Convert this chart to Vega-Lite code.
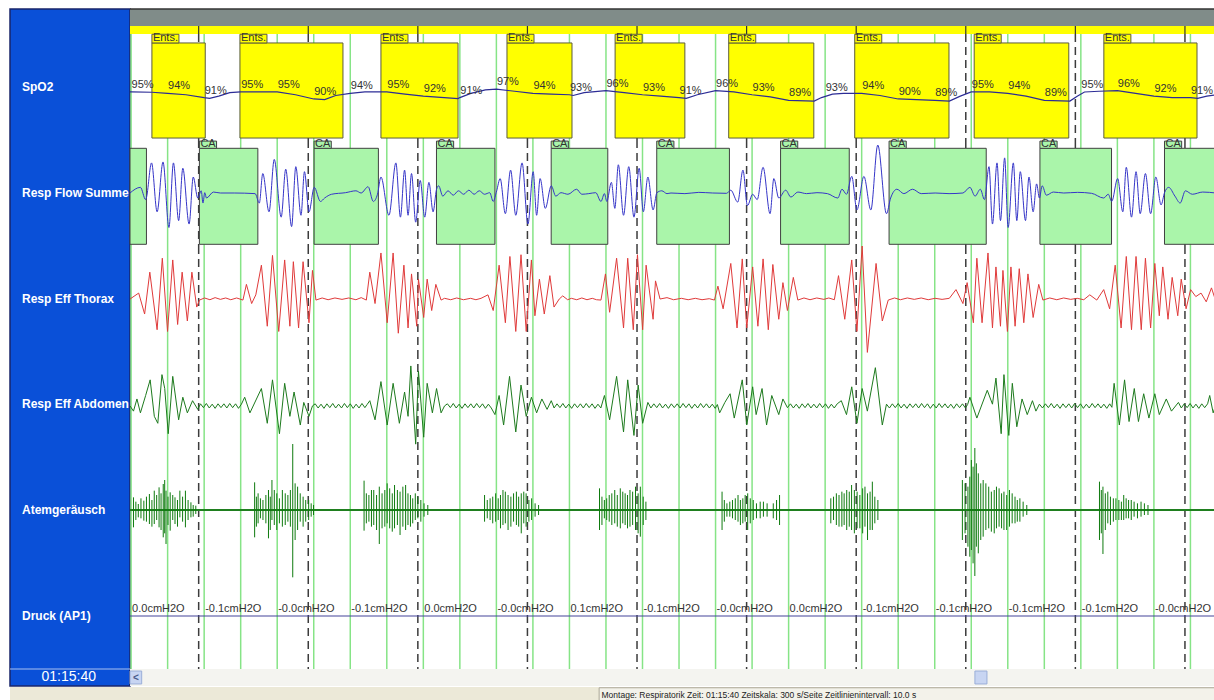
{
"$schema": "https://vega.github.io/schema/vega-lite/v6.json",
"padding": {"left": 8, "top": 8, "right": 0, "bottom": 0},
"background": "#ffffff",
"config": {"view": {"stroke": null}, "concat": {"spacing": 0}, "text": {"font": "Liberation Sans"}},
"datasets": {
"g10": [{"t":0},{"t":10},{"t":20},{"t":30},{"t":40},{"t":50},{"t":60},{"t":70},{"t":80},{"t":90},{"t":100},{"t":110},{"t":120},{"t":130},{"t":140},{"t":150},{"t":160},{"t":170},{"t":180},{"t":190},{"t":200},{"t":210},{"t":220},{"t":230},{"t":240},{"t":250},{"t":260},{"t":270},{"t":280},{"t":290}],
"g30": [{"t":18.5},{"t":48.5},{"t":78.5},{"t":108.5},{"t":138.5},{"t":168.5},{"t":198.5},{"t":228.5},{"t":258.5},{"t":288.5}],
"labels": [{"label":"SpO2","lane":0.5},{"label":"Resp Flow Summe","lane":1.5},{"label":"Resp Eff Thorax","lane":2.5},{"label":"Resp Eff Abdomen","lane":3.5},{"label":"Atemgeräusch","lane":4.5},{"label":"Druck (AP1)","lane":5.5}],
"ents": [{"s":5.7,"e":20.3,"te":13.1},{"s":29.8,"e":58.0,"te":37.2},{"s":68.4,"e":89.5,"te":75.8},{"s":102.9,"e":120.7,"te":110.3},{"s":132.5,"e":151.6,"te":139.9},{"s":163.6,"e":186.9,"te":171.0},{"s":198.1,"e":223.9,"te":205.5},{"s":230.8,"e":256.7,"te":238.2},{"s":266.3,"e":291.8,"te":273.7}],
"ca": [{"s":-0.3,"e":4.2},{"s":18.7,"e":34.7,"te":23.4},{"s":50.1,"e":67.7,"te":54.8},{"s":83.6,"e":99.6,"te":88.3},{"s":115.0,"e":130.5,"te":119.7},{"s":143.9,"e":163.8,"te":148.6},{"s":177.8,"e":196.6,"te":182.5},{"s":207.5,"e":234.1,"te":212.2},{"s":248.8,"e":268.4,"te":253.5},{"s":282.9,"e":297,"te":287.6}],
"spo2": [{"t":-0.3,"v":95},{"t":0,"v":95},{"t":5.7,"v":94.8},{"t":10,"v":94},{"t":15,"v":93},{"t":20,"v":91},{"t":21.5,"v":90.5},{"t":24,"v":92},{"t":27,"v":94.5},{"t":30,"v":95},{"t":40,"v":95},{"t":45,"v":93},{"t":50,"v":90},{"t":53,"v":89.5},{"t":56,"v":92.5},{"t":60,"v":94},{"t":64,"v":95},{"t":70,"v":95},{"t":75,"v":93.5},{"t":80,"v":92},{"t":89.5,"v":90.3},{"t":90,"v":91},{"t":93,"v":94},{"t":97,"v":96.5},{"t":100,"v":97},{"t":105,"v":95.5},{"t":110,"v":94},{"t":115,"v":93.5},{"t":120,"v":93},{"t":121,"v":92.5},{"t":124,"v":94.5},{"t":130,"v":96},{"t":135,"v":94.5},{"t":140,"v":93},{"t":145,"v":92},{"t":150,"v":91},{"t":152,"v":90.5},{"t":155,"v":93},{"t":160,"v":96},{"t":165,"v":95},{"t":170,"v":93},{"t":175,"v":91.5},{"t":180,"v":89},{"t":187,"v":88.5},{"t":189,"v":91},{"t":192,"v":93.5},{"t":195,"v":94},{"t":200,"v":94},{"t":205,"v":92.5},{"t":210,"v":90},{"t":215,"v":89.5},{"t":220,"v":89},{"t":224,"v":88.5},{"t":227,"v":92},{"t":230,"v":95},{"t":235,"v":95},{"t":240,"v":94},{"t":245,"v":92},{"t":250,"v":89},{"t":257,"v":88.5},{"t":259,"v":92},{"t":261,"v":95},{"t":265,"v":95.5},{"t":270,"v":96},{"t":275,"v":94},{"t":280,"v":92},{"t":285,"v":91},{"t":290,"v":91},{"t":292,"v":90.5},{"t":294.5,"v":92},{"t":297,"v":93}],
"spo2lab": [{"t":0,"v":95,"lab":"95%"},{"t":10,"v":94,"lab":"94%"},{"t":20,"v":91,"lab":"91%"},{"t":30,"v":95,"lab":"95%"},{"t":40,"v":95,"lab":"95%"},{"t":50,"v":90,"lab":"90%"},{"t":60,"v":94,"lab":"94%"},{"t":70,"v":95,"lab":"95%"},{"t":80,"v":92,"lab":"92%"},{"t":90,"v":91,"lab":"91%"},{"t":100,"v":97,"lab":"97%"},{"t":110,"v":94,"lab":"94%"},{"t":120,"v":93,"lab":"93%"},{"t":130,"v":96,"lab":"96%"},{"t":140,"v":93,"lab":"93%"},{"t":150,"v":91,"lab":"91%"},{"t":160,"v":96,"lab":"96%"},{"t":170,"v":93,"lab":"93%"},{"t":180,"v":89,"lab":"89%"},{"t":190,"v":93,"lab":"93%"},{"t":200,"v":94,"lab":"94%"},{"t":210,"v":90,"lab":"90%"},{"t":220,"v":89,"lab":"89%"},{"t":230,"v":95,"lab":"95%"},{"t":240,"v":94,"lab":"94%"},{"t":250,"v":89,"lab":"89%"},{"t":260,"v":95,"lab":"95%"},{"t":270,"v":96,"lab":"96%"},{"t":280,"v":92,"lab":"92%"},{"t":290,"v":91,"lab":"91%"}],
"druck": [{"t":0,"lab":"0.0cmH2O"},{"t":20,"lab":"-0.1cmH2O"},{"t":40,"lab":"-0.0cmH2O"},{"t":60,"lab":"-0.1cmH2O"},{"t":80,"lab":"0.0cmH2O"},{"t":100,"lab":"-0.0cmH2O"},{"t":120,"lab":"0.1cmH2O"},{"t":140,"lab":"-0.1cmH2O"},{"t":160,"lab":"-0.0cmH2O"},{"t":180,"lab":"0.0cmH2O"},{"t":200,"lab":"-0.1cmH2O"},{"t":220,"lab":"-0.1cmH2O"},{"t":240,"lab":"-0.1cmH2O"},{"t":260,"lab":"-0.1cmH2O"},{"t":280,"lab":"-0.0cmH2O"}],
"flow": [{"t":-0.3,"v":0},{"t":2.55,"v":0.18},{"t":3.98,"v":-0.21},{"t":4.17,"v":-0.16},{"t":5.6,"v":0.96},{"t":7.12,"v":-0.6},{"t":8.74,"v":0.99},{"t":10.36,"v":-1.1},{"t":11.59,"v":0.96},{"t":13.02,"v":-0.88},{"t":14.16,"v":0.79},{"t":15.88,"v":-0.99},{"t":17.02,"v":0.51},{"t":18.25,"v":-0.16},{"t":19.2,"v":0.07},{"t":19.68,"v":-0.32},{"t":20.16,"v":0.01},{"t":20.63,"v":-0.16},{"t":22.54,"v":0.03},{"t":24.44,"v":0},{"t":28.24,"v":0},{"t":33.95,"v":-0.02},{"t":35.1,"v":-0.32},{"t":36.05,"v":0.62},{"t":37.76,"v":-0.6},{"t":39.19,"v":1.07},{"t":41.09,"v":-0.77},{"t":42.33,"v":0.76},{"t":43.94,"v":-1.07},{"t":45.09,"v":0.84},{"t":46.51,"v":-0.71},{"t":47.46,"v":0.68},{"t":48.7,"v":-0.6},{"t":50.13,"v":0.18},{"t":51.84,"v":-0.27},{"t":52.98,"v":-0.16},{"t":54.89,"v":-0.04},{"t":58.69,"v":0.01},{"t":61.55,"v":0.07},{"t":62.97,"v":0},{"t":64.88,"v":0.2},{"t":66.3,"v":-0.27},{"t":67.45,"v":-0.04},{"t":68.4,"v":0.51},{"t":70.59,"v":-0.71},{"t":72.49,"v":0.96},{"t":73.73,"v":-0.77},{"t":74.87,"v":0.73},{"t":75.82,"v":-0.71},{"t":76.77,"v":0.62},{"t":77.91,"v":-0.93},{"t":79.15,"v":0.4},{"t":80.38,"v":-0.77},{"t":81.53,"v":0.34},{"t":82.67,"v":-0.6},{"t":83.62,"v":0.12},{"t":84.19,"v":0.23},{"t":85.33,"v":-0.1},{"t":86.76,"v":0.07},{"t":88.19,"v":-0.07},{"t":89.61,"v":0.07},{"t":91.04,"v":-0.04},{"t":92.47,"v":0.09},{"t":93.9,"v":-0.04},{"t":95.32,"v":0.07},{"t":96.75,"v":-0.04},{"t":98.18,"v":0.01},{"t":99.13,"v":-0.27},{"t":100.08,"v":0.07},{"t":101.03,"v":0.46},{"t":102.46,"v":-0.66},{"t":103.89,"v":0.73},{"t":105.31,"v":-0.71},{"t":107.03,"v":0.96},{"t":108.64,"v":-0.99},{"t":110.07,"v":0.68},{"t":111.02,"v":-0.71},{"t":111.97,"v":0.46},{"t":113.4,"v":-0.49},{"t":115.02,"v":0.23},{"t":116.26,"v":-0.1},{"t":117.68,"v":0.01},{"t":119.59,"v":-0.04},{"t":121.96,"v":0.12},{"t":123.39,"v":-0.04},{"t":125.3,"v":-0.02},{"t":127.2,"v":0.01},{"t":128.63,"v":-0.27},{"t":129.58,"v":-0.02},{"t":130.24,"v":-0.27},{"t":131.48,"v":0.34},{"t":132.43,"v":-0.49},{"t":133.38,"v":0.9},{"t":134.81,"v":-0.71},{"t":136.24,"v":0.84},{"t":137.66,"v":-0.77},{"t":139.09,"v":0.79},{"t":140.23,"v":-0.6},{"t":141.47,"v":0.51},{"t":142.9,"v":-0.54},{"t":143.94,"v":0.01},{"t":145.28,"v":0.07},{"t":146.7,"v":-0.02},{"t":147.8,"v":0},{"t":151.6,"v":-0.02},{"t":155.41,"v":0.02},{"t":159.22,"v":0},{"t":163.02,"v":-0.01},{"t":164.17,"v":0.09},{"t":166.07,"v":-0.29},{"t":167.5,"v":0.73},{"t":168.73,"v":-0.4},{"t":170.16,"v":-0.04},{"t":171.4,"v":-0.21},{"t":173.01,"v":0.82},{"t":174.92,"v":-0.66},{"t":175.96,"v":0.46},{"t":177.3,"v":-0.16},{"t":179.2,"v":0.09},{"t":180.63,"v":-0.13},{"t":182.53,"v":0.03},{"t":184.91,"v":-0.02},{"t":187.76,"v":0.01},{"t":190.62,"v":-0.02},{"t":193.47,"v":-0.16},{"t":194.61,"v":0.12},{"t":195.85,"v":-0.04},{"t":197.28,"v":0.53},{"t":198.7,"v":-0.54},{"t":200.61,"v":0.53},{"t":202.51,"v":-0.54},{"t":204.41,"v":1.53},{"t":206.79,"v":-0.66},{"t":207.93,"v":-0.16},{"t":209.65,"v":0.12},{"t":211.55,"v":-0.02},{"t":213.93,"v":0.12},{"t":216.31,"v":-0.02},{"t":220.11,"v":0},{"t":223.92,"v":-0.02},{"t":227.72,"v":0},{"t":229.63,"v":0.18},{"t":231.05,"v":-0.1},{"t":232.48,"v":0.12},{"t":233.62,"v":-0.21},{"t":234.86,"v":0.84},{"t":235.81,"v":-0.99},{"t":237.05,"v":0.96},{"t":238.0,"v":-0.88},{"t":239.14,"v":1.12},{"t":240.09,"v":-1.1},{"t":241.52,"v":0.96},{"t":242.47,"v":-0.88},{"t":243.42,"v":0.68},{"t":244.85,"v":-0.88},{"t":245.8,"v":0.51},{"t":246.94,"v":-0.6},{"t":247.89,"v":0.29},{"t":248.66,"v":-0.16},{"t":249.42,"v":0.23},{"t":250.56,"v":-0.07},{"t":252.46,"v":0.03},{"t":255.32,"v":0},{"t":259.12,"v":0.02},{"t":262.93,"v":-0.01},{"t":266.26,"v":-0.16},{"t":267.5,"v":-0.04},{"t":268.45,"v":-0.27},{"t":270.07,"v":0.46},{"t":271.49,"v":-0.6},{"t":272.44,"v":0.82},{"t":273.87,"v":-0.77},{"t":275.11,"v":0.68},{"t":276.25,"v":-0.66},{"t":277.68,"v":0.62},{"t":279.1,"v":-0.66},{"t":280.53,"v":0.51},{"t":281.96,"v":-0.38},{"t":282.91,"v":0.01},{"t":284.05,"v":0.18},{"t":285.76,"v":-0.1},{"t":287.19,"v":-0.32},{"t":288.62,"v":0.07},{"t":290.52,"v":-0.04},{"t":293.37,"v":0.03},{"t":296.99,"v":0}],
"thor": [{"t":-0.3,"v":0},{"t":2.08,"v":0.17},{"t":3.7,"v":-0.43},{"t":5.12,"v":0.77},{"t":7.12,"v":-0.88},{"t":8.55,"v":1.17},{"t":9.98,"v":-0.93},{"t":11.4,"v":1.12},{"t":12.74,"v":-0.73},{"t":13.97,"v":0.77},{"t":15.4,"v":-0.63},{"t":16.64,"v":0.77},{"t":17.97,"v":-0.23},{"t":18.73,"v":-0.03},{"t":20.1,"v":0.03},{"t":21.58,"v":-0.02},{"t":23.0,"v":0.04},{"t":24.44,"v":-0.01},{"t":25.9,"v":0.03},{"t":27.29,"v":-0.02},{"t":28.9,"v":0.03},{"t":30.62,"v":-0.03},{"t":31.57,"v":0.42},{"t":33.0,"v":-0.13},{"t":34.14,"v":0.12},{"t":35.67,"v":0.97},{"t":37.28,"v":-0.78},{"t":38.71,"v":1.25},{"t":40.42,"v":-0.93},{"t":42.04,"v":1.12},{"t":43.47,"v":-0.78},{"t":44.42,"v":1.07},{"t":45.85,"v":-0.83},{"t":47.08,"v":1.07},{"t":48.7,"v":-0.68},{"t":49.65,"v":0.82},{"t":50.6,"v":-0.03},{"t":52.3,"v":0.03},{"t":53.93,"v":-0.02},{"t":55.8,"v":0.03},{"t":57.74,"v":-0.01},{"t":59.6,"v":0.03},{"t":61.55,"v":-0.02},{"t":63.0,"v":0.04},{"t":64.4,"v":-0.03},{"t":65.35,"v":0.77},{"t":66.78,"v":-0.13},{"t":68.4,"v":1.32},{"t":70.11,"v":-0.68},{"t":71.73,"v":1.32},{"t":73.15,"v":-0.98},{"t":74.68,"v":0.97},{"t":75.82,"v":-0.83},{"t":76.77,"v":0.72},{"t":78.2,"v":-0.78},{"t":78.67,"v":0.57},{"t":80.1,"v":-0.53},{"t":81.05,"v":0.57},{"t":82.29,"v":-0.33},{"t":83.43,"v":0.42},{"t":84.86,"v":-0.03},{"t":85.81,"v":0.02},{"t":87.5,"v":-0.02},{"t":89.14,"v":0.03},{"t":91.0,"v":-0.02},{"t":92.94,"v":0.02},{"t":94.4,"v":-0.02},{"t":95.8,"v":0.02},{"t":97.7,"v":0.12},{"t":99.13,"v":-0.33},{"t":100.75,"v":0.97},{"t":102.46,"v":-0.68},{"t":103.7,"v":1.22},{"t":105.31,"v":-0.93},{"t":106.74,"v":1.27},{"t":108.17,"v":-0.93},{"t":109.59,"v":1.12},{"t":110.55,"v":-0.48},{"t":111.78,"v":0.57},{"t":113.11,"v":-0.43},{"t":114.64,"v":0.67},{"t":115.78,"v":-0.23},{"t":117.21,"v":0},{"t":118.16,"v":0.09},{"t":119.5,"v":-0.02},{"t":120.54,"v":0.02},{"t":122.0,"v":-0.02},{"t":123.39,"v":0.03},{"t":124.8,"v":-0.02},{"t":126.25,"v":0.02},{"t":127.4,"v":-0.02},{"t":128.63,"v":-0.03},{"t":129.86,"v":0.72},{"t":131.0,"v":-0.38},{"t":132.91,"v":1.17},{"t":134.81,"v":-0.83},{"t":135.95,"v":1.17},{"t":137.48,"v":-0.88},{"t":138.62,"v":1.27},{"t":140.04,"v":-0.88},{"t":140.99,"v":0.97},{"t":142.9,"v":-0.58},{"t":143.56,"v":0.52},{"t":144.8,"v":0},{"t":146.7,"v":0.04},{"t":148.5,"v":-0.02},{"t":150.65,"v":0.02},{"t":152.5,"v":-0.02},{"t":154.46,"v":0.02},{"t":156.3,"v":-0.02},{"t":158.27,"v":0.01},{"t":159.69,"v":-0.03},{"t":160.65,"v":0.37},{"t":162.07,"v":-0.28},{"t":164.17,"v":1.02},{"t":165.88,"v":-0.83},{"t":167.31,"v":1.15},{"t":168.54,"v":-0.83},{"t":170.16,"v":0.92},{"t":171.59,"v":-0.78},{"t":173.01,"v":1.15},{"t":174.44,"v":-0.88},{"t":175.68,"v":0.99},{"t":177.3,"v":-0.58},{"t":178.44,"v":0.47},{"t":179.67,"v":-0.33},{"t":181.29,"v":0.62},{"t":182.53,"v":-0.03},{"t":184.2,"v":0.03},{"t":185.86,"v":-0.02},{"t":187.7,"v":0.03},{"t":189.66,"v":-0.01},{"t":191.0,"v":0.03},{"t":192.52,"v":-0.02},{"t":193.66,"v":0.67},{"t":195.37,"v":-0.58},{"t":197.28,"v":1.12},{"t":198.7,"v":-0.93},{"t":200.13,"v":1.52},{"t":201.56,"v":-1.53},{"t":203.94,"v":1.02},{"t":205.65,"v":-0.63},{"t":207.27,"v":-0.03},{"t":209.0,"v":0.03},{"t":210.6,"v":-0.02},{"t":212.5,"v":0.03},{"t":214.4,"v":-0.01},{"t":216.3,"v":0.03},{"t":218.21,"v":-0.02},{"t":220.1,"v":0.02},{"t":222.01,"v":-0.01},{"t":224.0,"v":0.02},{"t":225.82,"v":0.27},{"t":227.72,"v":-0.13},{"t":228.87,"v":0.47},{"t":230.58,"v":-0.68},{"t":231.53,"v":1.17},{"t":232.96,"v":-0.68},{"t":234.58,"v":1.32},{"t":235.81,"v":-0.83},{"t":236.76,"v":0.92},{"t":238.0,"v":-0.78},{"t":238.67,"v":0.82},{"t":239.9,"v":-0.93},{"t":240.86,"v":0.92},{"t":242.0,"v":-0.78},{"t":243.14,"v":0.87},{"t":244.38,"v":-0.68},{"t":245.52,"v":0.72},{"t":246.94,"v":-0.53},{"t":248.47,"v":0.42},{"t":249.61,"v":-0.03},{"t":251.5,"v":0.03},{"t":253.42,"v":-0.02},{"t":255.3,"v":0.03},{"t":257.22,"v":-0.01},{"t":259.0,"v":0.02},{"t":260.8,"v":-0.02},{"t":262.45,"v":0.12},{"t":264.36,"v":-0.03},{"t":266.26,"v":0.27},{"t":267.88,"v":-0.28},{"t":269.4,"v":0.97},{"t":271.02,"v":-0.83},{"t":272.44,"v":1.22},{"t":273.87,"v":-0.88},{"t":275.11,"v":1.22},{"t":276.54,"v":-0.88},{"t":277.68,"v":1.17},{"t":279.1,"v":-0.83},{"t":280.25,"v":1.02},{"t":281.48,"v":-0.48},{"t":282.43,"v":0.92},{"t":283.86,"v":-0.58},{"t":285.0,"v":0.62},{"t":286.53,"v":-0.48},{"t":287.48,"v":0.57},{"t":288.81,"v":-0.28},{"t":290.05,"v":0.27},{"t":291.47,"v":0.07},{"t":292.9,"v":0.17},{"t":294.33,"v":-0.08},{"t":295.76,"v":0.32},{"t":297.0,"v":-0.08}],
"abd": [{"t":-0.3,"v":0},{"t":0.65,"v":-0.15},{"t":1.6,"v":0.2},{"t":2.55,"v":-0.2},{"t":3.98,"v":0.3},{"t":5.22,"v":0.75},{"t":6.36,"v":-0.3},{"t":7.31,"v":-0.5},{"t":8.45,"v":0.9},{"t":9.21,"v":0.5},{"t":10.17,"v":-0.8},{"t":11.4,"v":0.85},{"t":13.02,"v":-0.4},{"t":14.16,"v":0.25},{"t":15.4,"v":-0.2},{"t":16.83,"v":0.15},{"t":18.25,"v":-0.1},
{"t":19.0,"v":0.06},{"t":19.8,"v":-0.05},{"t":20.6,"v":0.07},{"t":21.4,"v":-0.06},{"t":22.2,"v":0.05},{"t":23.0,"v":-0.07},{"t":23.8,"v":0.06},{"t":24.6,"v":-0.05},{"t":25.4,"v":0.06},{"t":26.2,"v":-0.06},{"t":27.0,"v":0.07},{"t":27.8,"v":-0.05},{"t":28.6,"v":0.06},{"t":29.4,"v":-0.07},{"t":30.2,"v":0.05},
{"t":31.1,"v":0.25},{"t":32.53,"v":-0.2},{"t":35.67,"v":0.5},{"t":37.28,"v":-0.5},{"t":38.71,"v":0.75},{"t":40.61,"v":-0.8},{"t":42.04,"v":0.65},{"t":43.47,"v":-0.3},{"t":44.61,"v":0.4},{"t":46.32,"v":-0.55},{"t":47.27,"v":0.1},{"t":48.7,"v":-0.3},{"t":49.65,"v":0},
{"t":50.4,"v":0.06},{"t":51.2,"v":-0.06},{"t":52.0,"v":0.05},{"t":52.8,"v":-0.07},{"t":53.6,"v":0.06},{"t":54.4,"v":-0.05},{"t":55.2,"v":0.07},{"t":56.0,"v":-0.06},{"t":56.8,"v":0.05},{"t":57.6,"v":-0.06},{"t":58.4,"v":0.07},{"t":59.2,"v":-0.05},{"t":60.0,"v":0.06},{"t":60.8,"v":-0.07},{"t":61.6,"v":0.05},{"t":62.4,"v":-0.06},{"t":63.2,"v":0.07},{"t":64.0,"v":-0.05},{"t":64.6,"v":0.04},
{"t":65.35,"v":0.15},{"t":66.78,"v":-0.4},{"t":68.4,"v":0.7},{"t":70.11,"v":-0.55},{"t":71.73,"v":0.65},{"t":73.44,"v":-0.5},{"t":74.87,"v":0.4},{"t":75.82,"v":-0.3},{"t":76.58,"v":1.15},{"t":77.91,"v":-1.1},{"t":78.67,"v":1.0},{"t":80.1,"v":-0.9},{"t":81.05,"v":0.65},{"t":82.48,"v":-0.2},{"t":83.62,"v":0.5},{"t":84.86,"v":-0.2},{"t":85.81,"v":0},
{"t":86.6,"v":0.06},{"t":87.4,"v":-0.05},{"t":88.2,"v":0.07},{"t":89.0,"v":-0.06},{"t":89.8,"v":0.05},{"t":90.6,"v":-0.07},{"t":91.4,"v":0.06},{"t":92.2,"v":-0.05},{"t":93.0,"v":0.06},{"t":93.8,"v":-0.06},{"t":94.6,"v":0.07},{"t":95.4,"v":-0.05},{"t":96.2,"v":0.06},{"t":97.0,"v":-0.07},{"t":97.8,"v":0.05},{"t":98.6,"v":-0.06},
{"t":99.61,"v":-0.25},{"t":100.75,"v":0.3},{"t":101.98,"v":-0.55},{"t":103.6,"v":0.85},{"t":105.31,"v":-0.75},{"t":106.74,"v":0.6},{"t":108.17,"v":-0.3},{"t":109.59,"v":0.25},{"t":111.02,"v":-0.2},{"t":112.45,"v":0.2},{"t":113.88,"v":-0.1},{"t":115.02,"v":0.15},
{"t":115.8,"v":-0.06},{"t":116.6,"v":0.06},{"t":117.4,"v":-0.05},{"t":118.2,"v":0.07},{"t":119.0,"v":-0.06},{"t":119.8,"v":0.05},{"t":120.6,"v":-0.07},{"t":121.4,"v":0.06},{"t":122.2,"v":-0.05},{"t":123.0,"v":0.06},{"t":123.8,"v":-0.06},{"t":124.6,"v":0.07},{"t":125.4,"v":-0.05},{"t":126.2,"v":0.06},{"t":127.0,"v":-0.07},{"t":127.8,"v":0.05},{"t":128.6,"v":-0.06},
{"t":129.58,"v":0.3},{"t":131.0,"v":-0.4},{"t":132.91,"v":0.85},{"t":134.81,"v":-0.75},{"t":135.95,"v":0.75},{"t":137.66,"v":-0.85},{"t":138.81,"v":0.6},{"t":140.04,"v":-0.5},{"t":141.47,"v":0.1},
{"t":142.3,"v":-0.06},{"t":143.1,"v":0.06},{"t":143.9,"v":-0.05},{"t":144.7,"v":0.07},{"t":145.5,"v":-0.06},{"t":146.3,"v":0.05},{"t":147.1,"v":-0.07},{"t":147.9,"v":0.06},{"t":148.7,"v":-0.05},{"t":149.5,"v":0.06},{"t":150.3,"v":-0.06},{"t":151.1,"v":0.07},{"t":151.9,"v":-0.05},{"t":152.7,"v":0.06},{"t":153.5,"v":-0.07},{"t":154.3,"v":0.05},{"t":155.1,"v":-0.06},{"t":155.9,"v":0.07},{"t":156.7,"v":-0.05},{"t":157.5,"v":0.06},{"t":158.3,"v":-0.06},{"t":159.1,"v":0.05},{"t":159.9,"v":-0.07},{"t":160.5,"v":0.04},
{"t":161.12,"v":-0.2},{"t":162.55,"v":0.1},{"t":163.98,"v":0.35},{"t":165.12,"v":-0.35},{"t":167.31,"v":0.75},{"t":168.54,"v":-0.55},{"t":170.16,"v":0.55},{"t":171.11,"v":-0.25},{"t":172.73,"v":0.5},{"t":173.97,"v":-0.55},{"t":175.39,"v":0.3},{"t":177.3,"v":-0.25},{"t":178.44,"v":0.2},{"t":179.67,"v":-0.05},
{"t":180.5,"v":0.06},{"t":181.3,"v":-0.06},{"t":182.1,"v":0.05},{"t":182.9,"v":-0.07},{"t":183.7,"v":0.06},{"t":184.5,"v":-0.05},{"t":185.3,"v":0.07},{"t":186.1,"v":-0.06},{"t":186.9,"v":0.05},{"t":187.7,"v":-0.06},{"t":188.5,"v":0.07},{"t":189.3,"v":-0.05},{"t":190.1,"v":0.06},{"t":190.9,"v":-0.07},{"t":191.7,"v":0.05},{"t":192.5,"v":-0.06},{"t":193.3,"v":0.06},
{"t":194.42,"v":0.15},{"t":195.85,"v":-0.25},{"t":197.28,"v":0.55},{"t":198.7,"v":-0.5},{"t":200.13,"v":0.5},{"t":201.56,"v":-0.15},{"t":203.75,"v":1.1},{"t":205.65,"v":-0.55},{"t":206.79,"v":0.05},
{"t":207.6,"v":-0.06},{"t":208.4,"v":0.06},{"t":209.2,"v":-0.05},{"t":210.0,"v":0.07},{"t":210.8,"v":-0.06},{"t":211.6,"v":0.05},{"t":212.4,"v":-0.07},{"t":213.2,"v":0.06},{"t":214.0,"v":-0.05},{"t":214.8,"v":0.06},{"t":215.6,"v":-0.06},{"t":216.4,"v":0.07},{"t":217.2,"v":-0.05},{"t":218.0,"v":0.06},{"t":218.8,"v":-0.07},{"t":219.6,"v":0.05},{"t":220.4,"v":-0.06},{"t":221.2,"v":0.07},{"t":222.0,"v":-0.05},{"t":222.8,"v":0.06},{"t":223.6,"v":-0.06},{"t":224.4,"v":0.05},{"t":225.2,"v":-0.07},{"t":226.0,"v":0.06},{"t":226.8,"v":-0.05},{"t":227.6,"v":0.06},{"t":228.4,"v":-0.06},{"t":229.0,"v":0.04},
{"t":229.63,"v":0.25},{"t":231.53,"v":-0.35},{"t":234.38,"v":0.45},{"t":235.81,"v":0.05},{"t":236.76,"v":0.8},{"t":238.19,"v":-0.8},{"t":238.95,"v":0.9},{"t":240.28,"v":-0.85},{"t":241.24,"v":0.65},{"t":242.47,"v":-0.6},{"t":243.9,"v":0.2},{"t":245.33,"v":-0.25},{"t":246.75,"v":0.15},{"t":247.7,"v":-0.15},{"t":248.66,"v":0.05},
{"t":249.5,"v":-0.06},{"t":250.3,"v":0.06},{"t":251.1,"v":-0.05},{"t":251.9,"v":0.07},{"t":252.7,"v":-0.06},{"t":253.5,"v":0.05},{"t":254.3,"v":-0.07},{"t":255.1,"v":0.06},{"t":255.9,"v":-0.05},{"t":256.7,"v":0.06},{"t":257.5,"v":-0.06},{"t":258.3,"v":0.07},{"t":259.1,"v":-0.05},{"t":259.9,"v":0.06},{"t":260.7,"v":-0.07},{"t":261.5,"v":0.05},{"t":262.3,"v":-0.06},{"t":263.1,"v":0.07},{"t":263.9,"v":-0.05},{"t":264.7,"v":0.06},{"t":265.5,"v":-0.06},{"t":266.3,"v":0.05},{"t":267.1,"v":-0.07},{"t":267.9,"v":0.06},{"t":268.5,"v":-0.04},
{"t":269.11,"v":0.65},{"t":270.54,"v":-0.55},{"t":271.97,"v":0.75},{"t":273.2,"v":-0.45},{"t":274.63,"v":0.5},{"t":275.77,"v":-0.45},{"t":277.2,"v":0.35},{"t":278.63,"v":-0.35},{"t":280.25,"v":0.35},{"t":281.48,"v":-0.25},{"t":283.39,"v":0.2},{"t":284.81,"v":-0.15},{"t":286.71,"v":0.1},
{"t":287.5,"v":-0.06},{"t":288.3,"v":0.06},{"t":289.1,"v":-0.05},{"t":289.9,"v":0.07},{"t":290.7,"v":-0.06},{"t":291.5,"v":0.05},{"t":292.3,"v":-0.07},{"t":293.1,"v":0.06},{"t":293.9,"v":-0.05},{"t":294.7,"v":0.06},
{"t":295.28,"v":0.3},{"t":296.23,"v":-0.2},{"t":297,"v":0.05}],
"atem": [{"t":0.65,"hi":0.38,"lo":-0.52},{"t":1.97,"hi":0.18,"lo":-0.22},{"t":3.49,"hi":0.28,"lo":-0.32},{"t":5.01,"hi":0.48,"lo":-0.42},{"t":6.34,"hi":0.58,"lo":-0.42},{"t":7.66,"hi":0.68,"lo":-0.52},{"t":8.8,"hi":0.78,"lo":-0.82},{"t":9.56,"hi":0.58,"lo":-1.02},{"t":10.7,"hi":0.53,"lo":-0.62},{"t":12.02,"hi":0.38,"lo":-0.42},{"t":13.35,"hi":0.58,"lo":-0.22},{"t":14.87,"hi":0.58,"lo":-0.52},{"t":16.38,"hi":0.23,"lo":-0.22},{"t":17.71,"hi":0.13,"lo":-0.12},
{"t":1.3,"hi":0.25,"lo":-0.3},{"t":2.7,"hi":0.35,"lo":-0.25},{"t":4.2,"hi":0.4,"lo":-0.35},{"t":5.7,"hi":0.3,"lo":-0.5},{"t":7.0,"hi":0.45,"lo":-0.3},{"t":8.2,"hi":0.5,"lo":-0.6},{"t":9.2,"hi":0.9,"lo":-0.7},{"t":10.1,"hi":0.4,"lo":-0.45},{"t":11.4,"hi":0.45,"lo":-0.3},{"t":12.7,"hi":0.3,"lo":-0.5},{"t":14.1,"hi":0.4,"lo":-0.35},{"t":15.6,"hi":0.3,"lo":-0.3},{"t":17.0,"hi":0.15,"lo":-0.2},
{"t":33.82,"hi":0.83,"lo":-0.82},{"t":34.77,"hi":0.5,"lo":-0.4},{"t":36.1,"hi":0.3,"lo":-0.3},{"t":37.61,"hi":0.6,"lo":-0.85},{"t":38.56,"hi":0.9,"lo":-0.3},{"t":39.89,"hi":0.5,"lo":-0.6},{"t":41.41,"hi":0.6,"lo":-0.5},{"t":42.92,"hi":0.45,"lo":-0.35},{"t":44.25,"hi":1.98,"lo":-2.02},{"t":45.58,"hi":0.7,"lo":-0.6},{"t":47.09,"hi":0.4,"lo":-0.5},{"t":48.61,"hi":0.3,"lo":-0.3},{"t":49.94,"hi":0.15,"lo":-0.15},
{"t":34.3,"hi":0.4,"lo":-0.5},{"t":35.4,"hi":0.35,"lo":-0.25},{"t":36.9,"hi":0.45,"lo":-0.4},{"t":38.1,"hi":0.4,"lo":-0.6},{"t":39.2,"hi":0.6,"lo":-0.45},{"t":40.6,"hi":0.35,"lo":-0.4},{"t":42.2,"hi":0.5,"lo":-0.45},{"t":43.6,"hi":0.6,"lo":-0.5},{"t":44.9,"hi":0.8,"lo":-0.9},{"t":46.3,"hi":0.5,"lo":-0.35},{"t":47.8,"hi":0.3,"lo":-0.35},{"t":49.3,"hi":0.2,"lo":-0.2},
{"t":63.78,"hi":0.88,"lo":-0.62},{"t":65.1,"hi":0.45,"lo":-0.35},{"t":66.43,"hi":0.6,"lo":-0.45},{"t":67.95,"hi":0.7,"lo":-1.02},{"t":69.46,"hi":0.6,"lo":-0.5},{"t":70.79,"hi":0.65,"lo":-0.55},{"t":72.12,"hi":0.75,"lo":-0.55},{"t":73.63,"hi":0.55,"lo":-0.75},{"t":75.15,"hi":0.75,"lo":-0.6},{"t":76.48,"hi":0.45,"lo":-0.5},{"t":77.8,"hi":0.5,"lo":-0.3},{"t":79.32,"hi":0.3,"lo":-0.35},{"t":81.22,"hi":0.15,"lo":-0.15},
{"t":64.4,"hi":0.5,"lo":-0.4},{"t":65.8,"hi":0.6,"lo":-0.5},{"t":67.2,"hi":0.45,"lo":-0.6},{"t":68.7,"hi":0.5,"lo":-0.55},{"t":70.1,"hi":0.8,"lo":-0.4},{"t":71.5,"hi":0.5,"lo":-0.65},{"t":72.9,"hi":0.6,"lo":-0.45},{"t":74.4,"hi":0.7,"lo":-0.5},{"t":75.8,"hi":0.5,"lo":-0.45},{"t":77.1,"hi":0.35,"lo":-0.4},{"t":78.5,"hi":0.4,"lo":-0.25},{"t":80.2,"hi":0.2,"lo":-0.2},
{"t":96.76,"hi":0.45,"lo":-0.35},{"t":98.28,"hi":0.35,"lo":-0.3},{"t":99.8,"hi":0.5,"lo":-0.35},{"t":101.12,"hi":0.45,"lo":-0.55},{"t":102.45,"hi":0.55,"lo":-0.4},{"t":103.97,"hi":0.4,"lo":-0.5},{"t":105.48,"hi":0.55,"lo":-0.45},{"t":106.81,"hi":0.5,"lo":-0.7},{"t":108.14,"hi":0.5,"lo":-0.5},{"t":109.65,"hi":0.35,"lo":-0.3},{"t":111.55,"hi":0.15,"lo":-0.15},
{"t":97.5,"hi":0.3,"lo":-0.25},{"t":99.0,"hi":0.4,"lo":-0.4},{"t":100.5,"hi":0.35,"lo":-0.3},{"t":101.8,"hi":0.6,"lo":-0.45},{"t":103.2,"hi":0.45,"lo":-0.6},{"t":104.7,"hi":0.5,"lo":-0.35},{"t":106.1,"hi":0.4,"lo":-0.5},{"t":107.5,"hi":0.55,"lo":-0.4},{"t":108.9,"hi":0.3,"lo":-0.35},{"t":110.6,"hi":0.2,"lo":-0.2},
{"t":128.23,"hi":0.65,"lo":-0.6},{"t":129.56,"hi":0.3,"lo":-0.25},{"t":130.89,"hi":0.45,"lo":-0.35},{"t":132.4,"hi":0.6,"lo":-0.4},{"t":133.92,"hi":0.65,"lo":-0.55},{"t":135.25,"hi":0.5,"lo":-0.45},{"t":136.57,"hi":0.6,"lo":-0.5},{"t":138.09,"hi":0.7,"lo":-0.6},{"t":139.41,"hi":0.7,"lo":-0.8},{"t":140.93,"hi":0.25,"lo":-0.3},
{"t":128.9,"hi":0.4,"lo":-0.45},{"t":130.2,"hi":0.35,"lo":-0.3},{"t":131.6,"hi":0.5,"lo":-0.45},{"t":133.1,"hi":0.45,"lo":-0.5},{"t":134.6,"hi":0.55,"lo":-0.4},{"t":135.9,"hi":0.45,"lo":-0.55},{"t":137.3,"hi":0.55,"lo":-0.45},{"t":138.8,"hi":0.5,"lo":-0.7},{"t":140.2,"hi":0.4,"lo":-0.45},
{"t":161.78,"hi":0.55,"lo":-0.6},{"t":163.11,"hi":0.2,"lo":-0.2},{"t":164.63,"hi":0.3,"lo":-0.25},{"t":166.15,"hi":0.45,"lo":-0.35},{"t":167.47,"hi":0.35,"lo":-0.4},{"t":168.8,"hi":0.5,"lo":-0.6},{"t":170.32,"hi":0.3,"lo":-0.3},{"t":172.22,"hi":0.25,"lo":-0.25},{"t":174.11,"hi":0.2,"lo":-0.2},{"t":177.52,"hi":0.45,"lo":-0.45},
{"t":162.4,"hi":0.3,"lo":-0.35},{"t":163.9,"hi":0.25,"lo":-0.2},{"t":165.4,"hi":0.35,"lo":-0.3},{"t":166.8,"hi":0.3,"lo":-0.45},{"t":168.1,"hi":0.45,"lo":-0.35},{"t":169.5,"hi":0.35,"lo":-0.4},{"t":171.2,"hi":0.2,"lo":-0.25},{"t":173.1,"hi":0.25,"lo":-0.2},{"t":175.8,"hi":0.2,"lo":-0.25},{"t":176.7,"hi":0.3,"lo":-0.3},
{"t":191.55,"hi":0.35,"lo":-0.4},{"t":193.07,"hi":0.5,"lo":-0.45},{"t":194.58,"hi":0.55,"lo":-0.5},{"t":195.91,"hi":0.6,"lo":-0.6},{"t":197.24,"hi":0.75,"lo":-0.6},{"t":198.75,"hi":0.55,"lo":-0.55},{"t":200.27,"hi":0.65,"lo":-0.7},{"t":201.6,"hi":0.5,"lo":-0.9},{"t":202.92,"hi":0.85,"lo":-0.6},{"t":204.44,"hi":0.3,"lo":-0.3},
{"t":192.3,"hi":0.4,"lo":-0.3},{"t":193.8,"hi":0.45,"lo":-0.5},{"t":195.2,"hi":0.5,"lo":-0.45},{"t":196.6,"hi":0.55,"lo":-0.5},{"t":198.0,"hi":0.6,"lo":-0.7},{"t":199.5,"hi":0.45,"lo":-0.55},{"t":200.9,"hi":0.7,"lo":-0.5},{"t":202.3,"hi":0.55,"lo":-0.6},{"t":203.6,"hi":0.4,"lo":-0.4},
{"t":227.57,"hi":0.9,"lo":-0.9},{"t":229.09,"hi":0.7,"lo":-1.1},{"t":230.03,"hi":1.5,"lo":-1.2},{"t":230.98,"hi":1.86,"lo":-1.98},{"t":231.93,"hi":1.1,"lo":-1.3},{"t":233.26,"hi":0.9,"lo":-0.8},{"t":234.78,"hi":0.7,"lo":-0.55},{"t":236.29,"hi":0.6,"lo":-0.7},{"t":237.62,"hi":0.65,"lo":-0.5},{"t":238.95,"hi":0.55,"lo":-0.6},{"t":240.46,"hi":0.6,"lo":-0.5},{"t":241.98,"hi":0.4,"lo":-0.4},{"t":243.31,"hi":0.35,"lo":-0.35},{"t":245.2,"hi":0.15,"lo":-0.15},
{"t":228.3,"hi":0.8,"lo":-0.7},{"t":229.6,"hi":1.0,"lo":-1.4},{"t":230.5,"hi":1.3,"lo":-1.6},{"t":231.4,"hi":1.4,"lo":-1.1},{"t":232.6,"hi":0.8,"lo":-0.9},{"t":234.0,"hi":0.8,"lo":-0.6},{"t":235.5,"hi":0.55,"lo":-0.65},{"t":236.9,"hi":0.7,"lo":-0.55},{"t":238.3,"hi":0.5,"lo":-0.55},{"t":239.7,"hi":0.45,"lo":-0.6},{"t":241.2,"hi":0.5,"lo":-0.4},{"t":242.6,"hi":0.3,"lo":-0.35},{"t":244.2,"hi":0.25,"lo":-0.2},
{"t":265.1,"hi":0.85,"lo":-0.9},{"t":266.05,"hi":0.7,"lo":-1.32},{"t":267.38,"hi":0.55,"lo":-0.4},{"t":268.9,"hi":0.35,"lo":-0.35},{"t":270.41,"hi":0.3,"lo":-0.3},{"t":271.74,"hi":0.45,"lo":-0.3},{"t":273.07,"hi":0.3,"lo":-0.25},{"t":274.58,"hi":0.25,"lo":-0.2},{"t":276.48,"hi":0.25,"lo":-0.2},{"t":278.38,"hi":0.15,"lo":-0.15},
{"t":265.6,"hi":0.6,"lo":-0.7},{"t":266.7,"hi":0.5,"lo":-0.6},{"t":268.1,"hi":0.4,"lo":-0.45},{"t":269.6,"hi":0.35,"lo":-0.3},{"t":271.1,"hi":0.25,"lo":-0.3},{"t":272.4,"hi":0.35,"lo":-0.25},{"t":273.8,"hi":0.3,"lo":-0.3},{"t":275.5,"hi":0.2,"lo":-0.25},{"t":277.4,"hi":0.2,"lo":-0.15}]
},
"vconcat": [
{
"hconcat": [
{
"width": 120, "height": 677,
"view": {"fill": "#0a50d8", "stroke": "#18256a", "strokeWidth": 1.5},
"layer": [
{"data": {"values": [{}]}, "mark": {"type": "rule", "color": "#a8c0f0", "strokeWidth": 1},
 "encoding": {"y": {"datum": 6.0, "scale": {"domain": [-0.2362, 6.1606], "reverse": true, "nice": false, "zero": false}, "axis": null}}},
{"data": {"name": "labels"}, "mark": {"type": "text", "font": "Liberation Sans", "fontSize": 12, "fontWeight": "bold", "color": "#ffffff", "align": "left", "baseline": "middle"},
 "encoding": {"x": {"datum": 0.1, "scale": {"domain": [0, 1], "nice": false, "zero": false}, "axis": null},
  "y": {"field": "lane", "type": "quantitative", "scale": {"domain": [-0.2362, 6.1606], "reverse": true, "nice": false, "zero": false}, "axis": null},
  "text": {"field": "label"}}},
{"data": {"values": [{"label": "01:15:40", "lane": 6.08}]}, "mark": {"type": "text", "font": "Liberation Sans", "fontSize": 14, "color": "#ffffff", "align": "center", "baseline": "middle"},
 "encoding": {"x": {"datum": 0.49, "scale": {"domain": [0, 1], "nice": false, "zero": false}, "axis": null},
  "y": {"field": "lane", "type": "quantitative", "scale": {"domain": [-0.2362, 6.1606], "reverse": true, "nice": false, "zero": false}, "axis": null},
  "text": {"field": "label"}}}
]
},
{
"vconcat": [
{
"width": 1086, "height": 25,
"view": {"fill": "#808c89"},
"layer": [
{"data": {"values": [{}]}, "mark": {"type": "rect", "color": "#ffff00"},
 "encoding": {"x": {"datum": -0.3, "scale": {"domain": [-0.3, 297], "nice": false, "zero": false}, "axis": null}, "x2": {"datum": 297},
  "y": {"datum": 0, "scale": {"domain": [0, 1], "nice": false, "zero": false}, "axis": null}, "y2": {"datum": 0.32}}},
{"data": {"values": [{}]}, "mark": {"type": "rule", "color": "#333333", "strokeWidth": 1.5},
 "encoding": {"y": {"datum": 1, "scale": {"domain": [0, 1], "nice": false, "zero": false}, "axis": null}}},
{"data": {"name": "g30"}, "mark": {"type": "rule", "color": "#333333", "strokeWidth": 1.2},
 "encoding": {"x": {"field": "t", "type": "quantitative", "scale": {"domain": [-0.3, 297], "nice": false, "zero": false}, "axis": null},
  "y": {"datum": 0, "scale": {"domain": [0, 1], "nice": false, "zero": false}, "axis": null}, "y2": {"datum": 0.32}}}
]
},
{
"width": 1086, "height": 106,
"layer": [
{"data": {"name": "g10"}, "mark": {"type": "rule", "color": "#86e486", "strokeWidth": 1.5}, "encoding": {"x": {"field": "t", "type": "quantitative", "scale": {"domain": [-0.3, 297], "nice": false, "zero": false}, "axis": null}}},
{"data": {"name": "g30"}, "mark": {"type": "rule", "color": "#3c3c3c", "strokeWidth": 1.5, "strokeDash": [8, 5]}, "encoding": {"x": {"field": "t", "type": "quantitative", "scale": {"domain": [-0.3, 297], "nice": false, "zero": false}, "axis": null}}},
{"data": {"name": "ents"}, "mark": {"type": "rect", "fill": "#ffff00", "stroke": "#5c5c3c", "strokeWidth": 1},
 "encoding": {"x": {"field": "s", "type": "quantitative", "scale": {"domain": [-0.3, 297], "nice": false, "zero": false}, "axis": null}, "x2": {"field": "e"},
  "y": {"datum": 130, "scale": {"domain": [60.7, 136.4], "nice": false, "zero": false}, "axis": null}, "y2": {"datum": 62.1}}},
{"data": {"name": "ents"}, "mark": {"type": "rect", "fill": "#ffff00", "stroke": "#5c5c3c", "strokeWidth": 1},
 "encoding": {"x": {"field": "s", "type": "quantitative", "scale": {"domain": [-0.3, 297], "nice": false, "zero": false}, "axis": null}, "x2": {"field": "te"},
  "y": {"datum": 136.2, "scale": {"domain": [60.7, 136.4], "nice": false, "zero": false}, "axis": null}, "y2": {"datum": 130}}},
{"data": {"name": "ents"}, "mark": {"type": "text", "font": "Liberation Sans", "fontSize": 11, "color": "#333333", "align": "left", "baseline": "bottom", "dx": 1, "dy": 0},
 "encoding": {"x": {"field": "s", "type": "quantitative", "scale": {"domain": [-0.3, 297], "nice": false, "zero": false}, "axis": null},
  "y": {"datum": 130, "scale": {"domain": [60.7, 136.4], "nice": false, "zero": false}, "axis": null}, "text": {"value": "Ents."}}},
{"data": {"name": "spo2"}, "mark": {"type": "line", "color": "#2c2c96", "strokeWidth": 1.2},
 "encoding": {"x": {"field": "t", "type": "quantitative", "scale": {"domain": [-0.3, 297], "nice": false, "zero": false}, "axis": null},
  "y": {"field": "v", "type": "quantitative", "scale": {"domain": [60.7, 136.4], "nice": false, "zero": false}, "axis": null}}},
{"data": {"name": "spo2lab"}, "mark": {"type": "text", "font": "Liberation Sans", "fontSize": 11, "color": "#333333", "align": "left", "baseline": "alphabetic", "dx": 0.5, "dy": -4},
 "encoding": {"x": {"field": "t", "type": "quantitative", "scale": {"domain": [-0.3, 297], "nice": false, "zero": false}, "axis": null},
  "y": {"field": "v", "type": "quantitative", "scale": {"domain": [60.7, 136.4], "nice": false, "zero": false}, "axis": null}, "text": {"field": "lab"}}}
]
},
{
"width": 1086, "height": 106,
"layer": [
{"data": {"name": "g10"}, "mark": {"type": "rule", "color": "#86e486", "strokeWidth": 1.5}, "encoding": {"x": {"field": "t", "type": "quantitative", "scale": {"domain": [-0.3, 297], "nice": false, "zero": false}, "axis": null}}},
{"data": {"name": "g30"}, "mark": {"type": "rule", "color": "#3c3c3c", "strokeWidth": 1.5, "strokeDash": [8, 5]}, "encoding": {"x": {"field": "t", "type": "quantitative", "scale": {"domain": [-0.3, 297], "nice": false, "zero": false}, "axis": null}}},
{"data": {"name": "ca"}, "mark": {"type": "rect", "fill": "#aaf5aa", "stroke": "#404040", "strokeWidth": 1},
 "encoding": {"x": {"field": "s", "type": "quantitative", "scale": {"domain": [-0.3, 297], "nice": false, "zero": false}, "axis": null}, "x2": {"field": "e"},
  "y": {"datum": 1.425, "scale": {"domain": [-1.69, 1.69], "nice": false, "zero": false}, "axis": null}, "y2": {"datum": -1.636}}},
{"data": {"name": "ca"}, "transform": [{"filter": "isValid(datum.te)"}], "mark": {"type": "rect", "fill": "#aaf5aa", "stroke": "#404040", "strokeWidth": 1},
 "encoding": {"x": {"field": "s", "type": "quantitative", "scale": {"domain": [-0.3, 297], "nice": false, "zero": false}, "axis": null}, "x2": {"field": "te"},
  "y": {"datum": 1.655, "scale": {"domain": [-1.69, 1.69], "nice": false, "zero": false}, "axis": null}, "y2": {"datum": 1.425}}},
{"data": {"name": "ca"}, "transform": [{"filter": "isValid(datum.te)"}], "mark": {"type": "text", "font": "Liberation Sans", "fontSize": 11, "color": "#333333", "align": "left", "baseline": "bottom", "dx": 1, "dy": 0.5},
 "encoding": {"x": {"field": "s", "type": "quantitative", "scale": {"domain": [-0.3, 297], "nice": false, "zero": false}, "axis": null},
  "y": {"datum": 1.425, "scale": {"domain": [-1.69, 1.69], "nice": false, "zero": false}, "axis": null}, "text": {"value": "CA"}}},
{"data": {"name": "flow"}, "mark": {"type": "line", "color": "#3535c8", "strokeWidth": 1, "interpolate": "monotone"},
 "encoding": {"x": {"field": "t", "type": "quantitative", "scale": {"domain": [-0.3, 297], "nice": false, "zero": false}, "axis": null},
  "y": {"field": "v", "type": "quantitative", "scale": {"domain": [-1.69, 1.69], "nice": false, "zero": false}, "axis": null}}}
]
},
{
"width": 1086, "height": 105,
"layer": [
{"data": {"name": "g10"}, "mark": {"type": "rule", "color": "#86e486", "strokeWidth": 1.5}, "encoding": {"x": {"field": "t", "type": "quantitative", "scale": {"domain": [-0.3, 297], "nice": false, "zero": false}, "axis": null}}},
{"data": {"name": "g30"}, "mark": {"type": "rule", "color": "#3c3c3c", "strokeWidth": 1.5, "strokeDash": [8, 5]}, "encoding": {"x": {"field": "t", "type": "quantitative", "scale": {"domain": [-0.3, 297], "nice": false, "zero": false}, "axis": null}}},
{"data": {"name": "thor"}, "mark": {"type": "line", "color": "#e03a3a", "strokeWidth": 1},
 "encoding": {"x": {"field": "t", "type": "quantitative", "scale": {"domain": [-0.3, 297], "nice": false, "zero": false}, "axis": null},
  "y": {"field": "v", "type": "quantitative", "scale": {"domain": [-1.49, 1.52], "nice": false, "zero": false}, "axis": null}}}
]
},
{
"width": 1086, "height": 106,
"layer": [
{"data": {"name": "g10"}, "mark": {"type": "rule", "color": "#86e486", "strokeWidth": 1.5}, "encoding": {"x": {"field": "t", "type": "quantitative", "scale": {"domain": [-0.3, 297], "nice": false, "zero": false}, "axis": null}}},
{"data": {"name": "g30"}, "mark": {"type": "rule", "color": "#3c3c3c", "strokeWidth": 1.5, "strokeDash": [8, 5]}, "encoding": {"x": {"field": "t", "type": "quantitative", "scale": {"domain": [-0.3, 297], "nice": false, "zero": false}, "axis": null}}},
{"data": {"name": "abd"}, "mark": {"type": "line", "color": "#1d7a1d", "strokeWidth": 1},
 "encoding": {"x": {"field": "t", "type": "quantitative", "scale": {"domain": [-0.3, 297], "nice": false, "zero": false}, "axis": null},
  "y": {"field": "v", "type": "quantitative", "scale": {"domain": [-1.47, 1.58], "nice": false, "zero": false}, "axis": null}}}
]
},
{
"width": 1086, "height": 106,
"layer": [
{"data": {"name": "g10"}, "mark": {"type": "rule", "color": "#86e486", "strokeWidth": 1.5}, "encoding": {"x": {"field": "t", "type": "quantitative", "scale": {"domain": [-0.3, 297], "nice": false, "zero": false}, "axis": null}}},
{"data": {"name": "g30"}, "mark": {"type": "rule", "color": "#3c3c3c", "strokeWidth": 1.5, "strokeDash": [8, 5]}, "encoding": {"x": {"field": "t", "type": "quantitative", "scale": {"domain": [-0.3, 297], "nice": false, "zero": false}, "axis": null}}},
{"data": {"values": [{}]}, "mark": {"type": "rule", "color": "#1f7f1f", "strokeWidth": 2},
 "encoding": {"y": {"datum": 0, "scale": {"domain": [-1.59, 1.59], "nice": false, "zero": false}, "axis": null}}},
{"data": {"name": "atem"}, "mark": {"type": "rule", "color": "#0e7a0e", "strokeWidth": 1},
 "encoding": {"x": {"field": "t", "type": "quantitative", "scale": {"domain": [-0.3, 297], "nice": false, "zero": false}, "axis": null},
  "y": {"field": "hi", "type": "quantitative", "scale": {"domain": [-1.59, 1.59], "nice": false, "zero": false}, "axis": null}, "y2": {"field": "lo"}}}
]
},
{
"width": 1086, "height": 106,
"layer": [
{"data": {"name": "g10"}, "mark": {"type": "rule", "color": "#86e486", "strokeWidth": 1.5}, "encoding": {"x": {"field": "t", "type": "quantitative", "scale": {"domain": [-0.3, 297], "nice": false, "zero": false}, "axis": null}}},
{"data": {"name": "g30"}, "mark": {"type": "rule", "color": "#3c3c3c", "strokeWidth": 1.5, "strokeDash": [8, 5]}, "encoding": {"x": {"field": "t", "type": "quantitative", "scale": {"domain": [-0.3, 297], "nice": false, "zero": false}, "axis": null}}},
{"data": {"values": [{}]}, "mark": {"type": "rule", "color": "#45459a", "strokeWidth": 1.2},
 "encoding": {"y": {"datum": 0, "scale": {"domain": [-1, 1], "nice": false, "zero": false}, "axis": null}}},
{"data": {"name": "druck"}, "mark": {"type": "text", "font": "Liberation Sans", "fontSize": 11, "color": "#333333", "align": "left", "baseline": "alphabetic", "dx": 1, "dy": -4},
 "encoding": {"x": {"field": "t", "type": "quantitative", "scale": {"domain": [-0.3, 297], "nice": false, "zero": false}, "axis": null},
  "y": {"datum": 0, "scale": {"domain": [-1, 1], "nice": false, "zero": false}, "axis": null}, "text": {"field": "lab"}}}
]
},
{
"width": 1086, "height": 17,
"view": {"fill": "#f4f4f0"},
"layer": [
{"data": {"values": [{"s": -0.3, "e": 2.9}, {"s": 231.0, "e": 234.3}]}, "mark": {"type": "rect", "fill": "#c8d5f2", "stroke": "#9aaed8", "strokeWidth": 1},
 "encoding": {"x": {"field": "s", "type": "quantitative", "scale": {"domain": [-0.3, 297], "nice": false, "zero": false}, "axis": null}, "x2": {"field": "e"},
  "y": {"datum": 0.12, "scale": {"domain": [0, 1], "nice": false, "zero": false}, "axis": null}, "y2": {"datum": 0.88}}},
{"data": {"values": [{"t": 1.3}]}, "mark": {"type": "text", "font": "Liberation Sans", "fontSize": 10, "fontWeight": "bold", "color": "#4a5a8a", "align": "center", "baseline": "middle"},
 "encoding": {"x": {"field": "t", "type": "quantitative", "scale": {"domain": [-0.3, 297], "nice": false, "zero": false}, "axis": null},
  "y": {"datum": 0.5, "scale": {"domain": [0, 1], "nice": false, "zero": false}, "axis": null}, "text": {"value": "<"}}}
]
}
],
"spacing": 0, "bounds": "flush",
"resolve": {"scale": {"x": "independent", "y": "independent"}}
}
],
"spacing": 0, "bounds": "flush",
"resolve": {"scale": {"x": "independent", "y": "independent"}}
},
{
"width": 1206, "height": 15,
"view": {"fill": "#ece9d8"},
"layer": [
{"data": {"values": [{}]}, "mark": {"type": "rect", "fill": "#f3f2ea", "stroke": "#aca899", "strokeWidth": 1},
 "encoding": {"x": {"datum": 0.4885, "scale": {"domain": [0, 1], "nice": false, "zero": false}, "axis": null}, "x2": {"datum": 1.0},
  "y": {"datum": 0.0, "scale": {"domain": [0, 1], "nice": false, "zero": false}, "axis": null}, "y2": {"datum": 0.95}}},
{"data": {"values": [{"txt": "Montage: Respiratorik  Zeit: 01:15:40  Zeitskala: 300 s/Seite  Zeitlinienintervall: 10.0 s"}]}, "mark": {"type": "text", "font": "Liberation Sans", "fontSize": 8.5, "color": "#222222", "align": "left", "baseline": "middle"},
 "encoding": {"x": {"datum": 0.4905, "scale": {"domain": [0, 1], "nice": false, "zero": false}, "axis": null},
  "y": {"datum": 0.5, "scale": {"domain": [0, 1], "nice": false, "zero": false}, "axis": null}, "text": {"field": "txt"}}}
]
}
],
"spacing": 0, "bounds": "full",
"resolve": {"scale": {"x": "independent", "y": "independent"}}
}
